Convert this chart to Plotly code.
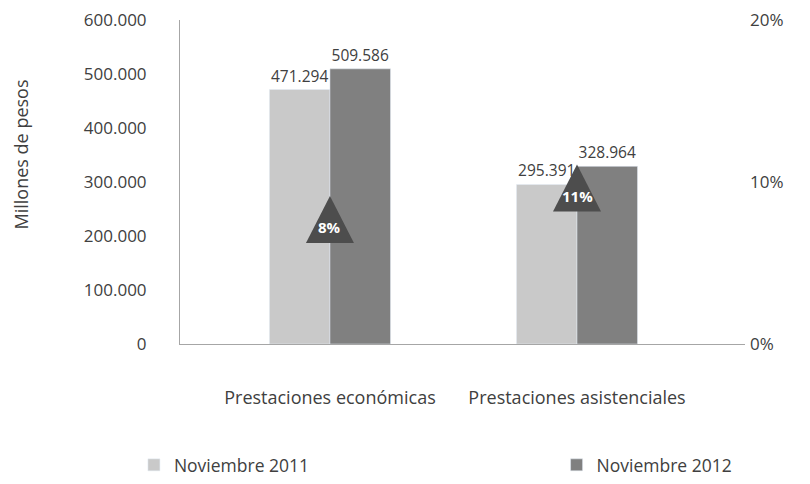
import plotly.graph_objects as go

categories = ["Prestaciones económicas", "Prestaciones asistenciales"]
series_names = ["Noviembre 2011", "Noviembre 2012"]
values_2011 = [471294, 295391]
values_2012 = [509586, 328964]
growth = [0.08, 0.11]
growth_labels = ["8%", "11%"]

FONT = "Open Sans"
TXT = "#404040"
C_LIGHT = "#C9C9C9"
C_DARK = "#808080"
C_TRI = "#4D4D4D"

# page body adds an 8px offset; figure is sized to fill the rest of the window
W, H = 802, 476

xpos = list(range(len(categories)))

fig = go.Figure()
fig.add_trace(go.Bar(
    x=xpos, y=values_2011, name=series_names[0], marker_color=C_LIGHT,
    texttemplate="%{y:,d}", textposition="outside",
    textfont=dict(family=FONT, size=15.5, color=TXT), cliponaxis=False,
    legend="legend",
))
fig.add_trace(go.Bar(
    x=xpos, y=values_2012, name=series_names[1], marker_color=C_DARK,
    texttemplate="%{y:,d}", textposition="outside",
    textfont=dict(family=FONT, size=15.5, color=TXT), cliponaxis=False,
    legend="legend2",
))
# secondary axis labels only
fig.add_trace(go.Scatter(x=[xpos[0]], y=[0], yaxis="y2", mode="markers",
                         marker=dict(opacity=0), showlegend=False, hoverinfo="skip"))

shapes = []
annotations = []
for xi, g, lab in zip(xpos, growth, growth_labels):
    shapes.append(dict(
        type="path", xref="x", yref="y3", xsizemode="pixel", ysizemode="pixel",
        xanchor=xi, yanchor=g, path="M-24,-16 L24,-16 L0,31 Z",
        fillcolor=C_TRI, line=dict(width=0), layer="above",
    ))
    annotations.append(dict(
        x=xi, y=g, xref="x", yref="y3", text=f"<b>{lab}</b>", showarrow=False,
        font=dict(family=FONT, size=15, color="white"), xanchor="center", yanchor="middle",
    ))

annotations.append(dict(
    x=-0.2814, y=0.585, xref="paper", yref="paper", text="Millones de pesos",
    textangle=-90, showarrow=False, font=dict(family=FONT, size=18, color=TXT),
    xanchor="center", yanchor="middle",
))

legend_common = dict(
    orientation="h", xref="container", yref="container",
    y=0.04, xanchor="left", yanchor="middle",
    font=dict(family=FONT, size=17.5, color=TXT), bgcolor="rgba(0,0,0,0)",
)

fig.update_layout(
    width=W, height=H,
    margin=dict(l=172, r=65, t=12, b=140, autoexpand=False),
    paper_bgcolor="white", plot_bgcolor="white",
    separators=",.",
    barmode="group", bargap=0.51, bargroupgap=0,
    font=dict(family=FONT, color=TXT),
    xaxis=dict(
        range=[-0.607, 1.68], tickvals=xpos, ticktext=categories, automargin=False,
        showgrid=False, zeroline=False, showline=True, linecolor="#A6A6A6", linewidth=1,
        ticks="", tickfont=dict(family=FONT, size=18, color=TXT), ticklabelstandoff=37,
    ),
    yaxis=dict(
        range=[0, 600000], dtick=100000, tickformat=",d", automargin=False,
        showgrid=False, zeroline=False, showline=True, linecolor="#A6A6A6", linewidth=1,
        ticks="", tickfont=dict(family=FONT, size=17, color=TXT), ticklabelstandoff=29,
        ticklabeloverflow="allow",
    ),
    yaxis2=dict(
        range=[0, 0.2], dtick=0.1, tickformat=".0%", overlaying="y", side="right",
        automargin=False,
        showgrid=False, zeroline=False, showline=False, ticks="",
        tickfont=dict(family=FONT, size=17, color=TXT), ticklabelstandoff=4,
        ticklabeloverflow="allow",
    ),
    yaxis3=dict(
        range=[-0.0314, 0.2772], overlaying="y", visible=False,
    ),
    shapes=shapes,
    annotations=annotations,
    legend=dict(x=0.157, **legend_common),
    legend2=dict(x=0.684, **legend_common),
    hovermode=False,
)

fig.write_html("out.html")
